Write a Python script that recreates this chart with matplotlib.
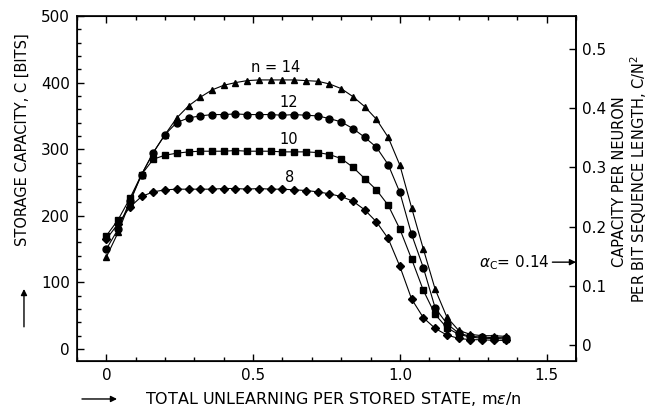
import numpy as np
import matplotlib.pyplot as plt
from matplotlib.ticker import MultipleLocator

plt.rcParams['font.family'] = 'DejaVu Sans'

# total unlearning per stored state, m*eps/n
unlearn = [0.00, 0.04, 0.08, 0.12, 0.16, 0.20, 0.24, 0.28, 0.32, 0.36,
           0.40, 0.44, 0.48, 0.52, 0.56, 0.60, 0.64, 0.68, 0.72, 0.76,
           0.80, 0.84, 0.88, 0.92, 0.96, 1.00, 1.04, 1.08, 1.12, 1.16,
           1.20, 1.24, 1.28, 1.32, 1.36]

# storage capacity C (bits) for each network size n
cap_n8 = [165, 188, 213, 229, 236, 239, 240, 240, 240, 240,
          241, 241, 240, 241, 240, 240, 239, 238, 236, 233,
          229, 222, 209, 191, 166, 124, 75, 47, 31, 21,
          16, 14, 14, 13, 13]
cap_n10 = [170, 194, 226, 262, 285, 291, 294, 296, 297, 297,
           297, 298, 297, 297, 297, 296, 296, 296, 295, 292,
           286, 273, 256, 239, 216, 180, 135, 88, 52, 32,
           22, 18, 16, 16, 15]
cap_n12 = [150, 180, 222, 262, 295, 322, 340, 347, 350, 352,
           352, 353, 352, 352, 352, 351, 352, 351, 350, 346,
           341, 331, 318, 303, 277, 235, 172, 122, 62, 38,
           24, 19, 18, 17, 17]
cap_n14 = [138, 175, 220, 262, 295, 322, 347, 365, 378, 389,
           396, 400, 403, 404, 404, 404, 404, 403, 402, 398,
           391, 379, 364, 345, 318, 276, 212, 150, 90, 48,
           28, 22, 20, 20, 19]

curve_labels = ['8', '10', '12', 'n = 14']
alpha_c = 0.14

fig = plt.figure(figsize=(6.48, 4.07), dpi=100)
ax = fig.add_axes([0.1188, 0.113, 0.7701, 0.8477])

series = [(cap_n8, 'D', 4.5), (cap_n10, 's', 4.5),
          (cap_n12, 'o', 5), (cap_n14, '^', 5)]
for vals, mk, ms in series:
    ax.plot(unlearn, vals, color='black', lw=0.8, marker=mk, ms=ms,
            mfc='black', mec='black')

# curve labels above each plateau
label_pos = [(0.626, 258), (0.62, 315), (0.62, 370), (0.578, 423)]
for lab, (lx, ly) in zip(curve_labels, label_pos):
    ax.text(lx, ly, lab, ha='center', va='center', fontsize=10.5)

ax.set_xlim(-0.1, 1.6)
ax.set_ylim(-18, 500)
ax.xaxis.set_minor_locator(MultipleLocator(0.1))
ax.yaxis.set_major_locator(MultipleLocator(100))
ax.yaxis.set_minor_locator(MultipleLocator(20))
ax.set_xticks([0, 0.5, 1.0, 1.5])
ax.set_xticklabels(['0', '0.5', '1.0', '1.5'])
ax.tick_params(which='both', direction='in', top=True, right=False,
               labelsize=11, width=1)
ax.tick_params(which='major', length=5, pad=5)
ax.tick_params(which='minor', length=3)
for sp in ax.spines.values():
    sp.set_linewidth(1.2)

# capacity per neuron per bit sequence length, C/N^2
ax2 = ax.twinx()
ax2.set_ylim(-0.02706, 0.556)
ax2.set_yticks([0, 0.1, 0.2, 0.3, 0.4, 0.5])
ax2.set_yticklabels(['0', '0.1', '0.2', '0.3', '0.4', '0.5'])
ax2.tick_params(direction='in', length=5, width=1, labelsize=11, pad=4)
ax2.spines['right'].set_linewidth(1.2)

arrow_kw = dict(arrowstyle='-|>', color='black', lw=1, mutation_scale=9,
                shrinkA=0, shrinkB=0)

ax2.annotate(r'$\alpha_{\rm C}$= 0.14', xy=(1.0, alpha_c),
             xycoords=('axes fraction', 'data'),
             xytext=(-19, 0), textcoords='offset points',
             ha='right', va='center', fontsize=11)
ax2.annotate('', xy=(1.0, alpha_c), xycoords=('axes fraction', 'data'),
             xytext=(-17, 0), textcoords='offset points',
             arrowprops=arrow_kw)

# axis titles with their arrows
fig.text(0.515, 0.0197, 'TOTAL UNLEARNING PER STORED STATE, m$\\epsilon$/n',
         ha='center', va='center', fontsize=11.5)
ax.annotate('', xy=(0.1806, 0.0197), xycoords='figure fraction',
            xytext=(0.1265, 0.0197), textcoords='figure fraction',
            arrowprops=arrow_kw)

fig.text(0.034, 0.658, 'STORAGE CAPACITY, C [BITS]', rotation=90,
         ha='center', va='center', fontsize=10.5)
ax.annotate('', xy=(0.037, 0.29), xycoords='figure fraction',
            xytext=(0.037, 0.197), textcoords='figure fraction',
            arrowprops=arrow_kw)

fig.text(0.956, 0.553, 'CAPACITY PER NEURON', rotation=90,
         ha='center', va='center', fontsize=10.5)
fig.text(0.985, 0.56, 'PER BIT SEQUENCE LENGTH, C/N$^2$', rotation=90,
         ha='center', va='center', fontsize=10.5)

fig.savefig('out.png', dpi=100)
